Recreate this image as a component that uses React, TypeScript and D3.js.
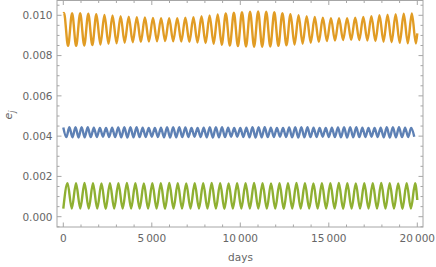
import React from "react";
import * as d3 from "d3";

// ---- data (extrema of each oscillating series) ----
// orange series: peaks at day 40 + 457k, troughs at day 268.5 + 457k
const orangeStart = 0.0101;
const orangeEnd = 0.0091;
const orangePeaks = [
  0.01012, 0.01011, 0.0101, 0.01008, 0.01005, 0.01002, 0.00999, 0.00996, 0.00993, 0.00991,
  0.00989, 0.00987, 0.00986, 0.00985, 0.00986, 0.00988, 0.00991, 0.00995, 0.00999, 0.01004,
  0.01009, 0.01013, 0.01016, 0.01018, 0.01019, 0.01018, 0.01015, 0.01011, 0.01006, 0.01001,
  0.00996, 0.00992, 0.00988, 0.00986, 0.00985, 0.00986, 0.00988, 0.00992, 0.00996, 0.01,
  0.01003, 0.01006, 0.01008, 0.01009,
];
const orangeTroughs = [
  0.00848, 0.00848, 0.0085, 0.00852, 0.00855, 0.00858, 0.00861, 0.00864, 0.00866, 0.00868,
  0.0087, 0.00871, 0.00872, 0.00871, 0.0087, 0.00868, 0.00865, 0.00862, 0.00858, 0.00854,
  0.0085, 0.00847, 0.00845, 0.00844, 0.00844, 0.00845, 0.00848, 0.00851, 0.00855, 0.00859,
  0.00864, 0.00868, 0.00872, 0.00875, 0.00877, 0.00878, 0.00877, 0.00875, 0.00872, 0.00869,
  0.00866, 0.00863, 0.00861, 0.0086,
];
const orangeFirstPeakDay = 40;
const orangePeriod = 457;

// blue series: peaks at day 344.83k, troughs half a period later
const bluePeaks = [
  0.00443, 0.00444, 0.00445, 0.00445, 0.00444, 0.00442, 0.00441, 0.00441, 0.00442, 0.00443,
  0.00444, 0.00445, 0.00444, 0.00442, 0.00441, 0.00441, 0.00442, 0.00444, 0.00445, 0.00444,
  0.00443, 0.00441, 0.00441, 0.00442, 0.00444, 0.00445, 0.00444, 0.00442, 0.00441, 0.00441,
  0.00442, 0.00444, 0.00445, 0.00444, 0.00442, 0.00441, 0.00441, 0.00443, 0.00444, 0.00445,
  0.00444, 0.00442, 0.00441, 0.00441, 0.00442, 0.00443, 0.00444, 0.00445, 0.00444, 0.00442,
  0.00441, 0.00441, 0.00442, 0.00444, 0.00445, 0.00444, 0.00442, 0.00441, 0.00442,
];
const blueTroughs = [
  0.00395, 0.00394, 0.00393, 0.00394, 0.00395, 0.00396, 0.00397, 0.00396, 0.00395, 0.00394,
  0.00393, 0.00394, 0.00395, 0.00396, 0.00397, 0.00396, 0.00394, 0.00393, 0.00394, 0.00395,
  0.00396, 0.00397, 0.00396, 0.00394, 0.00393, 0.00394, 0.00395, 0.00397, 0.00397, 0.00396,
  0.00394, 0.00393, 0.00394, 0.00395, 0.00396, 0.00397, 0.00396, 0.00394, 0.00393, 0.00394,
  0.00395, 0.00396, 0.00397, 0.00396, 0.00395, 0.00394, 0.00393, 0.00394, 0.00395, 0.00396,
  0.00397, 0.00396, 0.00394, 0.00393, 0.00394, 0.00395, 0.00396, 0.00397,
];
const blueFirstPeakDay = 0;
const bluePeriod = 344.83;

// green series: troughs at day 479k, peaks half a period later
const greenEnd = 0.00083;
const greenTroughs = [
  0.0004, 0.0004, 0.00041, 0.0004, 0.0004, 0.00039, 0.0004, 0.0004, 0.00041, 0.0004,
  0.0004, 0.0004, 0.00039, 0.0004, 0.0004, 0.00041, 0.0004, 0.0004, 0.0004, 0.00039,
  0.0004, 0.0004, 0.00041, 0.0004, 0.0004, 0.0004, 0.00039, 0.0004, 0.0004, 0.00041,
  0.0004, 0.0004, 0.0004, 0.00039, 0.0004, 0.0004, 0.00041, 0.0004, 0.0004, 0.0004,
  0.00039, 0.0004,
];
const greenPeaks = [
  0.00166, 0.00166, 0.00167, 0.00166, 0.00165, 0.00166, 0.00166, 0.00167, 0.00166, 0.00165,
  0.00166, 0.00166, 0.00167, 0.00166, 0.00165, 0.00166, 0.00166, 0.00167, 0.00166, 0.00165,
  0.00166, 0.00166, 0.00167, 0.00166, 0.00165, 0.00166, 0.00166, 0.00167, 0.00166, 0.00165,
  0.00166, 0.00166, 0.00167, 0.00166, 0.00165, 0.00166, 0.00166, 0.00167, 0.00166, 0.00165,
  0.00166, 0.00166,
];
const greenFirstTroughDay = 0;
const greenPeriod = 479;

const xMajorTicks = [0, 5000, 10000, 15000, 20000];
const xTickLabels = ["0", "5\u2009000", "10\u2009000", "15\u2009000", "20\u2009000"];
const yMajorTicks = [0, 0.002, 0.004, 0.006, 0.008, 0.01];
const yTickLabels = ["0.000", "0.002", "0.004", "0.006", "0.008", "0.010"];
const xLabel = "days";

const COLORS = { blue: "#5E81B5", orange: "#E19C24", green: "#8FB032" };

type Pt = [number, number];

function buildSeries(
  firstVals: number[],
  secondVals: number[],
  firstDay: number,
  period: number,
  startVal: number | null,
  endVal: number | null
): Pt[] {
  const pts: Pt[] = [];
  if (startVal !== null) pts.push([0, startVal]);
  const n = Math.max(firstVals.length, secondVals.length);
  for (let k = 0; k < n; k++) {
    if (k < firstVals.length) pts.push([firstDay + k * period, firstVals[k]]);
    if (k < secondVals.length) pts.push([firstDay + period / 2 + k * period, secondVals[k]]);
  }
  if (endVal !== null) pts.push([20000, endVal]);
  return pts.filter((p) => p[0] <= 20000).sort((a, b) => a[0] - b[0]);
}

export default function App() {
  const W = 436;
  const H = 267;
  const frame = { left: 57, right: 423, top: 0.5, bottom: 227 };
  const x = d3.scaleLinear().domain([0, 20000]).range([63.3, 417.3]);
  const y = d3.scaleLinear().domain([0, 0.01]).range([216.7, 15.3]);

  const orange = buildSeries(orangePeaks, orangeTroughs, orangeFirstPeakDay, orangePeriod, orangeStart, orangeEnd);
  const blue = buildSeries(bluePeaks, blueTroughs, blueFirstPeakDay, bluePeriod, null, null);
  const green = buildSeries(greenTroughs, greenPeaks, greenFirstTroughDay, greenPeriod, null, greenEnd);

  const line = d3
    .line<Pt>()
    .x((d) => x(d[0]))
    .y((d) => y(d[1]))
    .curve(d3.curveMonotoneX);

  const xMinor = d3.range(0, 20001, 1000).filter((v) => !xMajorTicks.includes(v));
  const yMinor = d3
    .range(-0.0005, 0.01051, 0.0005)
    .map((v) => Math.round(v * 1e5) / 1e5)
    .filter((v) => !yMajorTicks.some((m) => Math.abs(m - v) < 1e-9));

  const frameColor = "#a6a6a6";
  const labelColor = "#666666";
  const font = "'DejaVu Sans', sans-serif";
  const majorLen = 4.5;
  const minorLen = 2.5;

  return (
    <svg width={W} height={H} style={{ position: "absolute", left: 0, top: 0, background: "#fff" }}>
      {/* series */}
      <g fill="none" strokeWidth={2.4} strokeLinejoin="round">
        <path d={line(orange) || ""} stroke={COLORS.orange} />
        <path d={line(blue) || ""} stroke={COLORS.blue} />
        <path d={line(green) || ""} stroke={COLORS.green} />
      </g>

      {/* frame */}
      <rect
        x={frame.left}
        y={frame.top}
        width={frame.right - frame.left}
        height={frame.bottom - frame.top}
        fill="none"
        stroke={frameColor}
        strokeWidth={1}
      />

      {/* ticks on all four sides */}
      <g stroke={frameColor} strokeWidth={1}>
        {xMajorTicks.map((v) => (
          <g key={"xm" + v}>
            <line x1={x(v)} x2={x(v)} y1={frame.bottom} y2={frame.bottom - majorLen} />
            <line x1={x(v)} x2={x(v)} y1={frame.top} y2={frame.top + majorLen} />
          </g>
        ))}
        {xMinor.map((v) => (
          <g key={"xn" + v}>
            <line x1={x(v)} x2={x(v)} y1={frame.bottom} y2={frame.bottom - minorLen} />
            <line x1={x(v)} x2={x(v)} y1={frame.top} y2={frame.top + minorLen} />
          </g>
        ))}
        {yMajorTicks.map((v) => (
          <g key={"ym" + v}>
            <line x1={frame.left} x2={frame.left + majorLen} y1={y(v)} y2={y(v)} />
            <line x1={frame.right} x2={frame.right - majorLen} y1={y(v)} y2={y(v)} />
          </g>
        ))}
        {yMinor.map((v) => (
          <g key={"yn" + v}>
            <line x1={frame.left} x2={frame.left + minorLen} y1={y(v)} y2={y(v)} />
            <line x1={frame.right} x2={frame.right - minorLen} y1={y(v)} y2={y(v)} />
          </g>
        ))}
      </g>

      {/* tick labels */}
      <g fill={labelColor} fontFamily={font} fontSize={10.5}>
        {xMajorTicks.map((v, i) => (
          <text key={"xl" + v} x={x(v)} y={242} textAnchor="middle">
            {xTickLabels[i]}
          </text>
        ))}
        {yMajorTicks.map((v, i) => (
          <text key={"yl" + v} x={52.5} y={y(v) + 3.8} textAnchor="end">
            {yTickLabels[i]}
          </text>
        ))}
      </g>

      {/* axis labels */}
      <text x={240.5} y={261} textAnchor="middle" fill={labelColor} fontFamily={font} fontSize={10.5}>
        {xLabel}
      </text>
      <text
        transform="translate(12,115) rotate(-90)"
        textAnchor="middle"
        fill={labelColor}
        fontFamily={font}
        fontSize={11}
        fontStyle="italic"
      >
        e<tspan fontSize={8} dy={2.5}>j</tspan>
      </text>
    </svg>
  );
}
